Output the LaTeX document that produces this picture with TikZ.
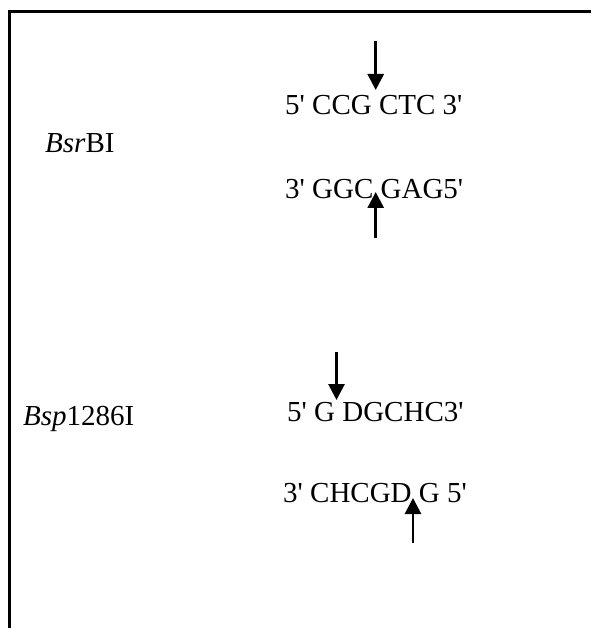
\documentclass[tikz,border=0pt]{standalone}
\usepackage{fontspec}
\setmainfont{Liberation Serif}
\usetikzlibrary{arrows.meta}
\newcommand\pq{\textquotesingle}
\begin{document}
\begin{tikzpicture}[x=1pt,y=-1pt,
  seq/.style={inner sep=0pt,anchor=base west,font=\fontsize{29}{34}\selectfont},
  cut/.style={line width=2.8pt,-{Triangle[width=16pt,length=16pt]}},
  frame/.style={line width=2.8pt,line join=miter}]
\useasboundingbox (0,0) rectangle (591,628);
\draw[frame] (9.3,628) -- (9.3,11.5) -- (591,11.5);
% BsrBI
\node[seq] (n1) at (45,153) {\textit{Bsr}BI};
\node[seq] (s1) at (285,115) {5\pq{} CCG CTC 3\pq};
\node[seq] (s2) at (285,199) {3\pq{} GGC GAG5\pq};
\coordinate (a1s) at (375.7,41.5);
\coordinate (a1e) at (375.7,90);
\coordinate (a2s) at (375.7,238);
\coordinate (a2e) at (375.7,192);
\draw[cut] (a1s) -- (a1e);
\draw[cut] (a2s) -- (a2e);
% Bsp1286I
\node[seq] (n2) at (23,425) {\textit{Bsp}1286I};
\node[seq] (s3) at (287,421) {5\pq{} G DGCHC3\pq};
\node[seq] (s4) at (283,502) {3\pq{} CHCGD G 5\pq};
\coordinate (a3s) at (336.5,352);
\coordinate (a3e) at (336.5,400);
\coordinate (a4s) at (413,543);
\coordinate (a4e) at (413,498);
\draw[cut] (a3s) -- (a3e);
\draw[cut] (a4s) -- (a4e);
\end{tikzpicture}
\end{document}
